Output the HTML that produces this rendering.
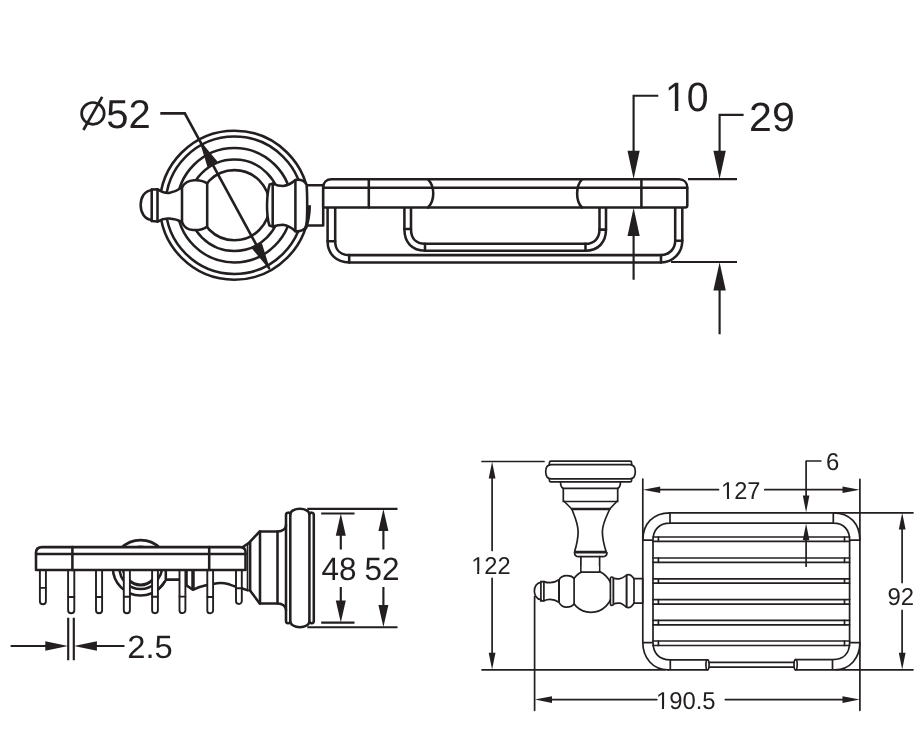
<!DOCTYPE html>
<html><head><meta charset="utf-8">
<style>
html,body{margin:0;padding:0;background:#fff;}
svg{display:block;}
text{font-family:"Liberation Sans",sans-serif;fill:#231f20;text-rendering:geometricPrecision;filter:url(#g);}
.k{stroke:#231f20;stroke-width:2.55;fill:none;stroke-linecap:round;stroke-linejoin:round;}
.w{stroke:#231f20;stroke-width:2.55;fill:#fff;stroke-linecap:round;stroke-linejoin:round;}
.d{stroke:#231f20;stroke-width:2.15;fill:none;}
.t{stroke:#231f20;stroke-width:1.7;fill:none;stroke-linecap:round;stroke-linejoin:round;}
.tw{stroke:#231f20;stroke-width:1.7;fill:#fff;stroke-linecap:round;stroke-linejoin:round;}
.a{fill:#231f20;stroke:none;}
</style></head>
<body>
<svg width="919" height="745" viewBox="0 0 919 745">
<defs><filter id="g" x="-10%" y="-10%" width="120%" height="120%" color-interpolation-filters="sRGB"><feOffset dx="0" dy="0"/></filter></defs>
<rect width="919" height="745" fill="#fff"/>

<!-- ================= VIEW A : top ================= -->
<g id="viewA">
<!-- circles -->
<g class="k">
<circle cx="234.4" cy="205.2" r="74.5"/>
<circle cx="234.4" cy="205.2" r="68.7"/>
<circle cx="234.4" cy="205.2" r="57.2"/>
<circle cx="234.4" cy="205.2" r="45.8"/>
<circle cx="234.4" cy="205.2" r="35.1"/>
</g>
<!-- left finial -->
<path class="w" d="M151.7,190.2 C137,191 137,219 151.7,219.8 L151.7,221 L157.5,221.6 C162,219 166,218.4 169,218.6 C175,219 179,220.5 182,222.2 C183.5,226 187,229.6 193,230 C199,230.3 204,229 207.2,226.4 L207.2,183.5 C204,181 199,180 194,180.3 C188,180.6 184,183.5 182,187.5 C179,189.5 175,192 169,193 C166,193.2 162,192.5 157.5,189.3 L151.7,189.6 Z"/>
<path class="k" d="M151.7,189.6 V221 M157.5,189.3 V221.6 M182,187.5 V222.2"/>
<!-- connector -->
<path class="w" d="M306,185.2 H323.2 V225.5 H306 Z"/>
<!-- right collar -->
<path class="w" d="M269.6,184.5 L272.7,183.6 C277,185.5 280,186 283,186 C288,185.5 292,183 295.4,180 C300,179.3 304.5,180.5 306.6,184.8 C307.1,191 307.2,198 307.2,205.5 C307.2,213 307.1,220 306.4,226.5 C304,230 300,231.8 295.4,231.3 C292,228 288,225.5 283,224.8 C280,224.8 277,225.2 272.7,226.4 L269.4,225.6 C266.2,215 266.2,196 269.6,184.5 Z"/>
<path class="k" d="M272.7,183.6 V226.4 M295.4,180 V231.3"/>
<!-- connector -->
<path class="k" style="stroke-width:3.3;stroke-linecap:butt" d="M309.4,205.3 C309.3,213 308.3,221 305.4,229"/>
<!-- outer wire -->
<path class="k" d="M327.6,207.5 V241.2 C327.6,254 336.5,262.4 349.2,262.4 H661 C673,262.4 682.3,253 682.3,240.8 V207.5"/>
<path class="k" d="M335.2,207.5 V241.2 C335.2,250 340.5,255.1 349.2,255.1 H661 C669,255.1 675.2,249 675.2,240.8 V207.5"/>
<path class="k" d="M327.6,241.2 H335.2 M349.2,255.1 V262.4 M661,255.1 V262.4 M675.2,240.8 H682.3"/>
<!-- inner wire -->
<path class="k" d="M404.4,207.5 V229 C404.4,242.5 412,250.7 425,250.7 H585.5 C598,250.7 606,242.5 606,229.6 V207.5"/>
<path class="k" d="M411,207.5 V229 C411,238.5 416,243.8 425,243.8 H585.5 C594,243.8 599.5,238.5 599.5,229.6 V207.5"/>
<path class="k" d="M404.4,229 H411 M425,243.8 V250.7 M585.5,243.8 V250.7 M599.5,229.6 H606"/>
<!-- bar -->
<path class="w" d="M323.2,207.5 V187.5 C323.2,182.3 326.8,179.3 331.5,179.3 H679 C684,179.3 687.3,182.5 687.3,188 V205.5 C687.3,207 686.5,207.5 685,207.5 Z"/>
<path class="k" d="M323.2,187.7 H687.3 M368.8,179.3 V207.5 M641.4,179.3 V207.5"/>
<path class="k" d="M428,179.3 C435,186.5 435,200.5 428,207.5 M582,179.3 C575.5,186 575.5,201 582,207.5"/>
<!-- dims -->
<path class="d" d="M658.3,95.7 H633.6 V160 M633.6,230 V279.8"/>
<path class="a" d="M633.6,179 L627.5,150.7 H639.7 Z M633.6,207.8 L627.5,236 H639.7 Z"/>
<path class="d" d="M743.6,114.8 H719.6 V160 M719.6,285 V334.2 M688,179.1 H737 M671,262 H737"/>
<path class="a" d="M719.6,179 L713.4,150.7 H725.8 Z M719.6,262.3 L713.4,290.5 H725.8 Z"/>
<text transform="translate(665,110.9) scale(0.955,1)" font-size="41">10</text>
<text transform="translate(749.1,130.6) scale(1.005,1)" font-size="40.9">29</text>
<!-- dia 52 -->
<path class="d" style="stroke-width:2.6" d="M160.3,113.4 H184.8 L269.5,269"/>
<path class="a" d="M199.07,139.6 L207.46,166.93 L217.46,161.47 Z M270.3,270.47 L261.9,243.15 L251.9,248.6 Z"/>
<ellipse cx="92.9" cy="113.4" rx="11.3" ry="10.9" fill="none" stroke="#231f20" stroke-width="2.7"/>
<path d="M83.4,130 L102.2,96.9" stroke="#231f20" stroke-width="2.7" fill="none"/>
<text transform="translate(106.3,128.3) scale(0.995,1)" font-size="40.2">52</text>
</g>

<!-- ================= VIEW B : side ================= -->
<g id="viewB">
<!-- circles behind -->
<g class="k">
<circle cx="140.6" cy="567.8" r="27.7"/>
<circle cx="140.6" cy="567.9" r="21.1"/>
<circle cx="140.6" cy="567.9" r="17.1" style="stroke-width:3.2"/>
</g>
<rect x="158" y="560" width="12" height="21" fill="#fff"/>
<path class="k" d="M162,569.7 C161.5,573 160,576.5 157.7,579.5 M165.8,569.7 V579.6 H179.5 M165.8,580 C163.6,584.5 161,587.5 157.7,590"/>
<!-- piece between pins -->
<path class="k" d="M186.5,569.7 V585.4 L192.8,589.8 C197,587.7 202,586 207,585 M213,583.9 C218,582.8 224,582.8 228,584 C231,585 233,585.8 235.4,586.4 M241,588 L247.8,590.4"/>
<path class="k" style="stroke-width:3.5;stroke-linecap:butt" d="M193,569.7 V589.5"/>
<!-- pins -->
<g class="w" style="stroke-width:1.9">
<path d="M39.9,569.7 V601.3 A3,3 0 0 0 45.9,601.3 V569.7"/>
<path d="M68.1,569.7 V610.2 A3.1,3.1 0 0 0 74.3,610.2 V569.7"/>
<path d="M96,569.7 V610.2 A3.05,3.05 0 0 0 102.1,610.2 V569.7"/>
<path d="M123.8,569.7 V610.2 A3.05,3.05 0 0 0 129.9,610.2 V569.7"/>
<path d="M152.1,569.7 V610.3 A2.9,2.9 0 0 0 157.9,610.3 V569.7"/>
<path d="M179.5,569.7 V610.2 A2.95,2.95 0 0 0 185.4,610.2 V569.7"/>
<path d="M207.3,569.7 V610.4 A2.9,2.9 0 0 0 213.1,610.4 V569.7"/>
<path d="M236,569.7 V601.1 A2.9,2.9 0 0 0 241.8,601.1 V569.7"/>
</g>
<path class="k" style="stroke-width:1.9" d="M39.9,587.9 H45.9 M68.1,597 H74.3 M96,597 H102.1 M123.8,596.7 H129.9 M152.1,596.7 H157.9 M179.5,596.6 H185.4 M207.3,597 H213.1 M236,588.3 H241.8"/>
<!-- bar -->
<path class="w" d="M36,569.9 V553 C36,549 38.5,547.1 42,547.1 H240 C243.5,547.1 245.5,549 245.5,552 V569.9 Z"/>
<path class="k" d="M36,553.9 H245.5 M72.4,547.1 V569.9 M209.2,547.1 V569.9"/>
<!-- flange -->
<path class="k" d="M242.8,547 L248.7,543.1 L259.7,531.5 H278 C282,531.5 286,529 286,525.5 V514.8 C286,512 290.2,512 290.3,514.4 A9.55,5.6 0 0 1 309.4,514.4 C309.5,512 313.8,512 313.8,514.8 V621 C313.8,623.8 309.5,623.8 309.4,621.5 A9.55,5.7 0 0 1 290.3,621.5 C290.2,623.8 286,623.8 286,621 V610 C286,606 282,603.4 278,603.4 H259.7 L250,590.4"/>
<path class="k" style="stroke-width:1.6" d="M247.5,544 V590"/>
<path class="k" d="M260,531.5 V603.4 M277.5,531.5 V603.4 M286,525 V610 M290.3,514.5 V621.3 M309.4,514 V621.5"/>
<path class="k" style="stroke-width:2.6" d="M250.1,542 V590.4"/>
<!-- dims -->
<path class="d" d="M307.3,508.8 H397.5 M307.3,627.2 H397.5 M321.2,513.5 H354.5 M321.2,622.6 H354.5"/>
<path class="d" d="M340.8,530 V549.4 M340.8,586.9 V605 M383.4,525 V549.4 M383.4,586.9 V610"/>
<path class="a" d="M340.8,513.5 L335.8,535.7 H345.8 Z M340.8,622.6 L335.8,600.4 H345.8 Z M383.4,508.9 L378.4,531 H388.4 Z M383.4,627.1 L378.4,605 H388.4 Z"/>
<text transform="translate(321.6,580.1) scale(0.975,1)" font-size="32.3">48</text>
<text transform="translate(364.5,580.1) scale(0.975,1)" font-size="32.3">52</text>
<path class="d" d="M68.2,617.8 V660.2 M73.8,617.8 V660.2 M10.6,646 H50 M92,646 H124.5"/>
<path class="a" d="M68,646 L45.3,641.2 V650.8 Z M74,646 L96.9,641.2 V650.8 Z"/>
<text transform="translate(127.2,657.8) scale(1.018,1)" font-size="32.2">2.5</text>
</g>

<!-- ================= VIEW C : front ================= -->
<g id="viewC">
<!-- base plate -->
<path class="t" d="M549.4,464.6 V462.7 Q549.4,461.2 551,461.2 H630 Q631.6,461.2 631.6,462.7 V464.6 M549.4,478.8 V480.4 Q549.4,481.9 551,481.9 H630 Q631.6,481.9 631.6,480.4 V478.8"/>
<path class="t" d="M551.2,464.6 H629.8 C633.4,464.6 635.3,467.6 635.3,471.7 C635.3,475.8 633.4,478.8 629.8,478.8 H551.2 C547.6,478.8 545.7,475.8 545.7,471.7 C545.7,467.6 547.6,464.6 551.2,464.6 Z"/>
<path class="t" d="M560.5,481.9 C560.6,485.5 561.6,487.6 563.3,488.4 V500.5 L571.8,509 C573.8,514.5 577.7,522 578.1,531 C578.3,538.5 576.4,545.5 574.7,551.3 M620.5,481.9 C620.4,485.5 619.4,487.6 617.7,488.4 V500.5 L609.7,509 C607.7,514.5 602.8,522 602.4,531 C602.2,538.5 604.2,545.5 606,551.3"/>
<path class="t" d="M563.2,488.4 H617.8 M563.2,501.5 H617.8"/><path class="t" style="stroke-width:2.3" d="M571.8,509 H609.7"/>
<path class="t" style="stroke-width:2.8;stroke-linecap:butt" d="M574.2,552.1 H606.6"/>
<path class="t" d="M574.5,552.5 C574.5,555.5 576.5,556.7 579,556.7 H602.5 C605,556.7 607,555.5 607,552.5"/>
<path class="t" d="M580.9,556.7 V572.2 M599.6,556.7 V572.2"/>
<!-- ball -->
<circle class="tw" cx="591" cy="591.1" r="21.3"/>
<rect x="581.8" y="566" width="17" height="6.2" fill="#fff"/>
<path class="t" d="M580.9,572.2 H599.6"/>
<!-- left finial -->
<path class="tw" d="M540.9,582.3 C532.2,583 532.2,599 540.9,599.7 L540.9,600.8 L543.9,600.8 C546,599.7 548,599.3 550,599.3 C553,599.3 556,600.2 559,602.3 C560.5,605 563,607.1 566.4,607.1 C570.5,607.1 573.2,605.5 574.1,603.7 V578.7 C573.2,577.2 570.5,575.7 566.4,575.7 C563,575.7 560.5,577.2 559,579.8 C556,581.8 553,582.7 550,582.7 C548,582.7 546,582.5 543.9,581.6 L540.9,581.6 Z"/>
<path class="t" d="M540.9,581.6 V600.8 M543.9,581.6 V600.8"/>
<path class="t" style="stroke-width:2" d="M559,580 V602"/>
<!-- right collar -->
<path class="tw" d="M613.3,578 C615.5,579 618,579 620,578.7 C622.5,578.2 624.5,576.5 625.8,575.6 C627,574.7 629.5,574.5 631,575.5 C632.5,576.5 633.3,577.8 634,578.7 H642.7 V603.1 H634 C633.3,604 632.5,605.5 631,606.7 C629.5,607.8 627,607.6 625.8,606.7 C624.5,605.8 622.5,603.8 620,603.2 C618,602.9 615.5,603 613.3,604.2 Z"/>
<rect class="tw" x="610.4" y="577" width="2.9" height="28.3" rx="1.4" ry="1.4"/>
<path class="t" style="stroke-width:2" d="M626.6,575.4 V606.9"/>
<path class="t" d="M634,578.7 V603.1"/>
<!-- basket -->
<path class="t" d="M642.8,479 V642.6 C642.8,658 653,669.8 668,669.8 M859.9,479.3 V710.3"/>
<path class="t" d="M670,512.8 C653,512.8 642.8,524 642.8,540.2 M670,523.1 C659,523.1 653,530 653,540.2 V642.6 C653,653 659,659.8 670.3,659.8 H707.5 M668,669.8 H707.5 M670,512.8 V523.1 M642.8,540.2 H653 M642.8,642.6 H653 M670.3,659.8 V669.8"/>
<path class="t" d="M670,523.1 H833.3 C844,523.1 849.6,530 849.6,540 V642.6 C849.6,653 844,659.6 832.5,659.6 H795.5 M833.3,512.8 C850,512.8 859.9,524 859.9,540 M859.9,642.6 C859.9,658 850,669.8 835,669.8 H795.5 M833.3,512.8 V523.1 M849.6,540.2 H859.9 M849.6,642.6 H859.9 M832.5,659.6 V669.8"/>
<ellipse class="t" cx="707.5" cy="664.8" rx="1.6" ry="5"/>
<ellipse class="t" cx="795.6" cy="664.7" rx="1.6" ry="5.1"/>
<path class="t" d="M709.2,662.4 H794 M709.2,667.1 H794"/>
<!-- slats -->
<path class="t" d="M653,537 H849.6 M653,541.3 H849.6 M653,558 H849.6 M653,562.3 H849.6 M653,578.8 H849.6 M653,583.2 H849.6 M653,599.6 H849.6 M653,604.1 H849.6 M653,620.3 H849.6 M653,624.8 H849.6 M653,641 H849.6 M653,645.5 H849.6"/>
<path class="t" d="M658.4,537 V541.3 M658.4,558 V562.3 M658.4,578.8 V583.2 M658.4,599.6 V604.1 M658.4,620.3 V624.8 M658.4,641 V645.5 M844.5,537 V541.3 M844.5,558 V562.3 M844.5,578.8 V583.2 M844.5,599.6 V604.1 M844.5,620.3 V624.8 M844.5,641 V645.5"/>
<!-- dims -->
<path class="t" d="M482,461.5 H544 M492.1,475 V550.5 M492.1,578.3 V657 M482,669.8 H665 M534.6,596.6 V710.3 M670,512.8 H913 M836,669.8 H913"/>
<path class="a" d="M492.1,461.7 L488.7,478.6 H495.5 Z M492.1,669.6 L488.7,652.7 H495.5 Z"/>
<text transform="translate(471.2,573.5) scale(0.97,1)" font-size="24.4">122</text>
<path class="t" d="M655,489.7 H718.5 M764.8,489.7 H848"/>
<path class="a" d="M643,489.7 L660.2,486.4 V493 Z M859.7,489.7 L842.5,486.4 V493 Z"/>
<text transform="translate(721.1,498.7) scale(0.965,1)" font-size="24.4">127</text>
<path class="t" d="M820.8,461 H806.1 V500 M806.1,535 V566.2"/>
<path class="a" d="M806.1,512.4 L802.8,495.6 H809.4 Z M806.1,523.4 L802.8,540.2 H809.4 Z"/>
<text transform="translate(826.0,470.2) scale(0.98,1)" font-size="24.4">6</text>
<path class="t" d="M902.1,525 V582.6 M902.1,610.3 V658"/>
<path class="a" d="M902.2,512.8 L898.8,529.6 H905.6 Z M902.2,669.6 L898.8,652.8 H905.6 Z"/>
<text transform="translate(887.5,605.2) scale(0.98,1)" font-size="24.4">92</text>
<path class="t" d="M546,699.6 H656.8 M725.3,699.6 H848"/>
<path class="a" d="M534.8,699.6 L552,696.3 V702.9 Z M859.7,699.6 L842.5,696.3 V702.9 Z"/>
<text transform="translate(655.9,708.7) scale(0.978,1)" font-size="24.4">190.5</text>
</g>
<!-- hide serif feet of digit 1 -->
<g id="feet">
<rect x="667.18" y="107.14" width="7.66" height="4.56" fill="#fff"/><rect x="678.30" y="107.14" width="7.36" height="4.56" fill="#fff"/>
<rect x="472.20" y="570.98" width="4.95" height="3.32" fill="#fff"/><rect x="479.24" y="570.98" width="4.76" height="3.32" fill="#fff"/>
<rect x="722.09" y="496.18" width="4.93" height="3.32" fill="#fff"/><rect x="729.10" y="496.18" width="4.74" height="3.32" fill="#fff"/>
<rect x="656.92" y="706.18" width="4.98" height="3.32" fill="#fff"/><rect x="664.01" y="706.18" width="4.80" height="3.32" fill="#fff"/>
</g>
</svg>
</body></html>
